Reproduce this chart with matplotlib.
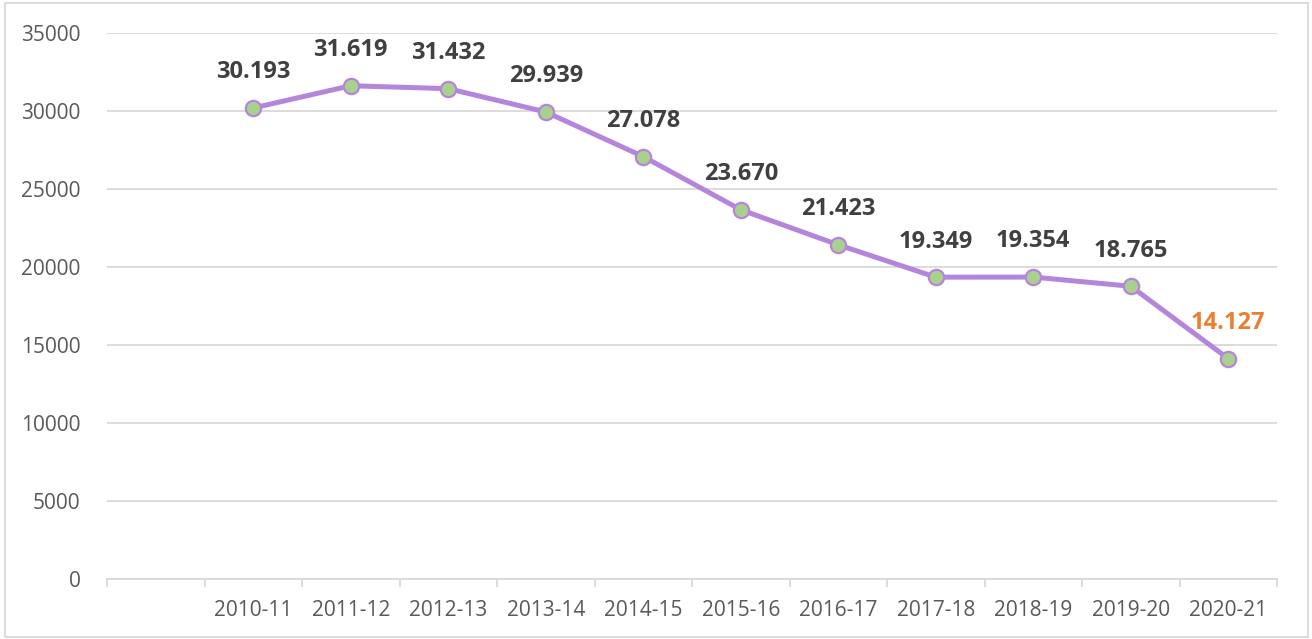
import matplotlib.pyplot as plt
from matplotlib.patches import Rectangle

# school years and enrolment totals
years = ["", "2010-11", "2011-12", "2012-13", "2013-14", "2014-15", "2015-16",
         "2016-17", "2017-18", "2018-19", "2019-20", "2020-21"]
values = [30193, 31619, 31432, 29939, 27078, 23670, 21423, 19349, 19354, 18765, 14127]
yticks = [0, 5000, 10000, 15000, 20000, 25000, 30000, 35000]

plt.rcParams['font.family'] = ['Open Sans', 'DejaVu Sans']

fig = plt.figure(figsize=(13.12, 6.39), dpi=100)
ax = fig.add_axes([107 / 1312, 60 / 639, 1170 / 1312, 546 / 639])

xs = list(range(1, len(values) + 1))
ax.plot(xs, values, color='#B585DC', lw=3.6, marker='o', ms=11,
        markerfacecolor='#A9D18E', markeredgecolor='#B585DC', markeredgewidth=1.6,
        zorder=3, solid_capstyle='round')

for i, (x, v) in enumerate(zip(xs, values)):
    label = f"{v:,}".replace(",", ".")
    col = '#ED7D31' if i == len(values) - 1 else '#404040'
    ax.annotate(label, (x, v), xytext=(0, 17), textcoords='offset points',
                ha='center', va='bottom', fontsize=17, fontweight='bold', color=col)

ax.set_xlim(-0.5, len(years) - 0.5)
ax.set_ylim(0, 35000)
ax.set_yticks(yticks)
ax.set_yticklabels([str(t) for t in yticks])
ax.set_xticks(range(len(years)))
ax.set_xticklabels(years)
ax.set_xticks([i - 0.5 for i in range(len(years) + 1)], minor=True)

ax.tick_params(axis='x', which='major', length=0, pad=15, labelsize=15, labelcolor='#595959')
ax.tick_params(axis='x', which='minor', length=6, width=1.3, color='#D9D9D9')
ax.tick_params(axis='y', length=0, pad=19, labelsize=15, labelcolor='#595959')

ax.grid(axis='y', color='#D9D9D9', lw=1.3)
ax.set_axisbelow(True)
for s in ['top', 'right', 'left']:
    ax.spines[s].set_visible(False)
ax.spines['bottom'].set_color('#D9D9D9')
ax.spines['bottom'].set_linewidth(1.3)

# light frame around the chart area
fig.patches.append(Rectangle((5 / 1312, 2 / 639), 1303 / 1312, 634 / 639,
                             transform=fig.transFigure, fill=False,
                             edgecolor='#D9D9D9', lw=1.3))

fig.savefig('out.png', dpi=100)
